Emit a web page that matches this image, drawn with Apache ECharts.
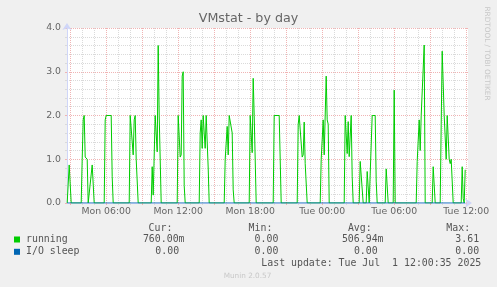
<!DOCTYPE html>
<html><head><meta charset="utf-8">
<script src="https://cdn.jsdelivr.net/npm/echarts@6/dist/echarts.min.js"></script>
<style>html,body{margin:0;padding:0;background:#f0f0f0;}#c{width:497px;height:287px;}</style>
</head><body><div id="c"></div>
<script>
const runTimes = [
'Mon 02:45','Mon 02:50','Mon 02:55','Mon 03:05',
'Mon 03:55','Mon 04:00','Mon 04:05','Mon 04:10','Mon 04:15','Mon 04:25','Mon 04:30',
'Mon 04:40','Mon 04:50','Mon 05:00',
'Mon 05:50','Mon 05:55','Mon 06:00','Mon 06:25','Mon 06:30','Mon 06:35',
'Mon 07:55','Mon 08:00','Mon 08:10','Mon 08:15','Mon 08:20','Mon 08:25','Mon 08:30','Mon 08:40',
'Mon 09:45','Mon 09:50','Mon 09:55','Mon 10:05','Mon 10:10','Mon 10:15','Mon 10:20','Mon 10:25','Mon 10:35',
'Mon 11:55','Mon 12:00','Mon 12:05','Mon 12:10','Mon 12:15','Mon 12:20','Mon 12:25','Mon 12:30','Mon 12:35',
'Mon 13:45','Mon 13:50','Mon 13:55','Mon 14:00','Mon 14:05','Mon 14:10','Mon 14:15','Mon 14:20','Mon 14:25','Mon 14:30','Mon 14:35',
'Mon 15:50','Mon 15:55','Mon 16:05','Mon 16:10','Mon 16:15','Mon 16:25','Mon 16:30','Mon 16:35','Mon 16:40',
'Mon 17:55','Mon 18:00','Mon 18:05','Mon 18:10','Mon 18:15','Mon 18:20','Mon 18:25','Mon 18:30',
'Mon 19:55','Mon 20:00','Mon 20:25','Mon 20:35',
'Mon 21:55','Mon 22:00','Mon 22:05','Mon 22:15','Mon 22:20','Mon 22:25','Mon 22:30','Mon 22:35','Mon 22:45',
'Mon 23:50','Mon 23:55','Tue 00:05','Tue 00:10','Tue 00:20','Tue 00:25','Tue 00:30','Tue 00:35',
'Tue 01:50','Tue 01:55','Tue 02:05','Tue 02:10','Tue 02:15','Tue 02:25','Tue 02:30','Tue 02:35',
'Tue 03:05','Tue 03:10','Tue 03:25',
'Tue 03:40','Tue 03:45','Tue 03:55',
'Tue 04:00','Tue 04:10','Tue 04:25','Tue 04:30','Tue 04:35',
'Tue 05:15','Tue 05:20','Tue 05:30',
'Tue 05:55','Tue 06:00','Tue 06:05',
'Tue 07:50','Tue 07:55','Tue 08:05','Tue 08:10','Tue 08:15','Tue 08:25','Tue 08:30','Tue 08:35',
'Tue 09:10','Tue 09:15','Tue 09:25',
'Tue 09:50','Tue 09:55','Tue 10:00','Tue 10:10','Tue 10:15','Tue 10:20','Tue 10:25','Tue 10:30','Tue 10:35','Tue 10:40','Tue 10:45','Tue 10:55',
'Tue 11:35','Tue 11:40','Tue 11:45','Tue 11:50','Tue 11:55'
];
const runValues = [
0,0,0.87,0,
0,1.0,1.9,2.0,1.05,1.0,0,
0,0.87,0,
0,1.9,2.0,2.0,0.6,0,
0,2.0,2.0,1.1,1.9,2.0,1.0,0,
0,0.83,0.18,2.0,2.0,1.17,3.6,2.0,0,
0,2.0,2.0,1.05,1.1,2.9,3.0,0.4,0,
0,1.6,1.9,1.25,2.0,1.6,1.25,2.0,2.0,0.8,0,
0,1.0,1.75,1.1,2.0,2.0,1.6,0.3,0,
0,2.0,2.0,1.15,2.85,2.0,2.0,0,
0,2.0,2.0,0,
0,1.8,2.0,2.0,1.05,1.1,1.85,0.9,0,
0,1.0,1.9,1.1,2.9,1.9,1.8,0,
0,2.0,1.13,1.86,1.06,2.0,0.6,0,
0,0.95,0,
0,0.72,0,
0,2.0,2.0,0.5,0,
0,0.78,0,
0,2.58,0,
0,0.95,1.9,1.2,2.0,2.0,3.61,0,
0,0.83,0,
0,1.8,3.47,2.0,2.0,1.0,2.0,2.0,1.0,0.9,1.0,0,
0,0.83,0.1,0,0.76
];
const ioTimes = ['Mon 02:45','Tue 11:55'];
const ioValues = [0,0];
const seriesNames = ['running','I/O sleep'];
const seriesColors = ['#00cc00','#0066b3'];
const xLabelTicks = ['Mon 06:00','Mon 12:00','Mon 18:00','Tue 00:00','Tue 06:00','Tue 12:00'];
const majorGridTicks = ['Mon 03:00','Mon 06:00','Mon 09:00','Mon 12:00','Mon 15:00','Mon 18:00','Mon 21:00',
  'Tue 00:00','Tue 03:00','Tue 06:00','Tue 09:00','Tue 12:00'];
const statHeaders = ['Cur:','Min:','Avg:','Max:'];
const runningStats = ['760.00m','0.00','506.94m','3.61'];
const ioStats = ['0.00','0.00','0.00','0.00'];
const lastUpdate = 'Last update: Tue Jul  1 12:00:35 2025';
const footer = 'Munin 2.0.57';
const sideText = 'RRDTOOL / TOBI OETIKER';
const titleText = 'VMstat - by day';
const axisStart = 'Mon 02:44', axisEnd = 'Tue 12:09';

const DAYS = ['Sun','Mon','Tue','Wed','Thu','Fri','Sat'];
function toTs(s){
  const parts = s.split(' ');
  const hm = parts[1].split(':').map(Number);
  const day = parts[0] === 'Mon' ? 30 : 31;
  return Date.UTC(2025, 5, day, hm[0], hm[1]);
}
function pad(n){ return (n < 10 ? '0' : '') + n; }
function fmt(v){ const d = new Date(v); return DAYS[d.getUTCDay()] + ' ' + pad(d.getUTCHours()) + ':' + pad(d.getUTCMinutes()); }

const xMin = toTs(axisStart), xMax = toTs(axisEnd);
const H = 3600 * 1000;
// hourly minor grid positions across the visible range
const hourTicks = [];
for (let t = Math.ceil(xMin / H) * H; t <= xMax; t += H) hourTicks.push(t);

const mono = 'DejaVu Sans Mono';
const sans = 'DejaVu Sans';
const gridGray = '#dadada', gridRed = '#f0b4b4', axisCol = '#cfd6f8', fontCol = '#666666';

function xAxisDef(extra){
  return Object.assign({
    type: 'value', min: xMin, max: xMax, scale: true,
    position: 'bottom', axisLine: {show: false}, axisTick: {show: false},
    axisLabel: {show: false}, splitLine: {show: false}
  }, extra);
}

const graphics = [];
function txt(x, y, s, opts){
  graphics.push({type: 'text', x: x, y: y, silent: true, style: Object.assign({
    text: s, font: '9.9px "' + mono + '"', fill: '#555555', textAlign: 'left', textVerticalAlign: 'middle'
  }, opts || {})});
}
const headerX = [149, 249, 348.3, 446.7];
statHeaders.forEach((h, i) => txt(headerX[i] - 0.4, 228, h));
const runX = [143.3, 255, 342.3, 455.7];
const ioX = [155.7, 255, 354.3, 455.7];
runningStats.forEach((s, i) => txt(runX[i] - 0.4, 239.5, s));
ioStats.forEach((s, i) => txt(ioX[i] - 0.4, 251.7, s));
txt(261.3, 263.8, lastUpdate);
graphics.push({type: 'text', x: 247.5, y: 276, silent: true, style: {
  text: footer, font: '7.3px "' + sans + '"', fill: '#c8c8c8', textAlign: 'center', textVerticalAlign: 'middle'}});
graphics.push({type: 'text', x: 487.3, y: 53.5, rotation: -Math.PI / 2, silent: true, style: {
  text: sideText, font: '7.3px "' + sans + '"', fill: '#c8c8c8', textAlign: 'center', textVerticalAlign: 'middle'}});

const chart = echarts.init(document.getElementById('c'), null, {renderer: 'canvas'});
chart.setOption({
  animation: false,
  backgroundColor: '#f0f0f0',
  title: {
    text: titleText, left: 'center', top: 12.5, padding: 0,
    textStyle: {fontFamily: sans, fontSize: 12.7, fontWeight: 'normal', color: fontCol}
  },
  legend: seriesNames.map((n, i) => ({
    data: [n], left: 14, top: 233.5 + i * 12.3, padding: 0, itemWidth: 6, itemHeight: 6,
    icon: 'rect', selectedMode: false,
    textStyle: {fontFamily: mono, fontSize: 9.9, color: '#555555', lineHeight: 12, padding: [0, 0, 0, 1]}
  })),
  grid: {left: 67, top: 28, width: 401, height: 175, show: true, backgroundColor: '#ffffff', borderWidth: 0},
  xAxis: [
    xAxisDef({
      splitLine: {show: true, lineStyle: {color: gridGray, width: 1, type: [1, 1]}},
      axisTick: {show: true, length: 2, lineStyle: {color: gridGray}, customValues: hourTicks}
    }),
    xAxisDef({
      splitLine: {show: true, lineStyle: {color: gridRed, width: 1, type: [1, 1]}},
      axisTick: {show: true, length: 2, lineStyle: {color: gridRed}, customValues: majorGridTicks.map(toTs)}
    }),
    xAxisDef({
      axisLine: {show: true, lineStyle: {color: axisCol, width: 1}, symbol: ['none', 'arrow'], symbolSize: [7, 7], symbolOffset: [0, 4]},
      axisTick: {show: false, customValues: xLabelTicks.map(toTs)},
      axisLabel: {show: true, margin: 4, fontFamily: sans, fontSize: 9.33, color: fontCol,
        customValues: xLabelTicks.map(toTs), formatter: (v) => fmt(v)}
    })
  ],
  yAxis: {
    type: 'value', min: 0, max: 4, interval: 1,
    axisLine: {show: true, lineStyle: {color: axisCol, width: 1}, symbol: ['none', 'arrow'], symbolSize: [7, 7], symbolOffset: [0, 5]},
    axisTick: {show: true, length: 2, lineStyle: {color: gridRed}},
    minorTick: {show: true, splitNumber: 5, length: 2, lineStyle: {color: gridGray}},
    splitLine: {show: true, lineStyle: {color: gridRed, width: 1, type: [1, 1]}},
    minorSplitLine: {show: true, lineStyle: {color: gridGray, width: 1, type: [1, 1]}},
    axisLabel: {margin: 6, fontFamily: sans, fontSize: 9.33, color: fontCol, formatter: (v) => v.toFixed(1)}
  },
  series: [
    {name: seriesNames[0], type: 'line', xAxisIndex: 2, showSymbol: false, symbol: 'none',
     lineStyle: {width: 1, color: seriesColors[0]}, itemStyle: {color: seriesColors[0]},
     data: runTimes.map((t, i) => [toTs(t), runValues[i]])},
    {name: seriesNames[1], type: 'line', xAxisIndex: 2, showSymbol: false, symbol: 'none',
     lineStyle: {width: 1, color: seriesColors[1]}, itemStyle: {color: seriesColors[1]},
     data: ioTimes.map((t, i) => [toTs(t), ioValues[i]])}
  ],
  graphic: graphics
});
</script></body></html>
